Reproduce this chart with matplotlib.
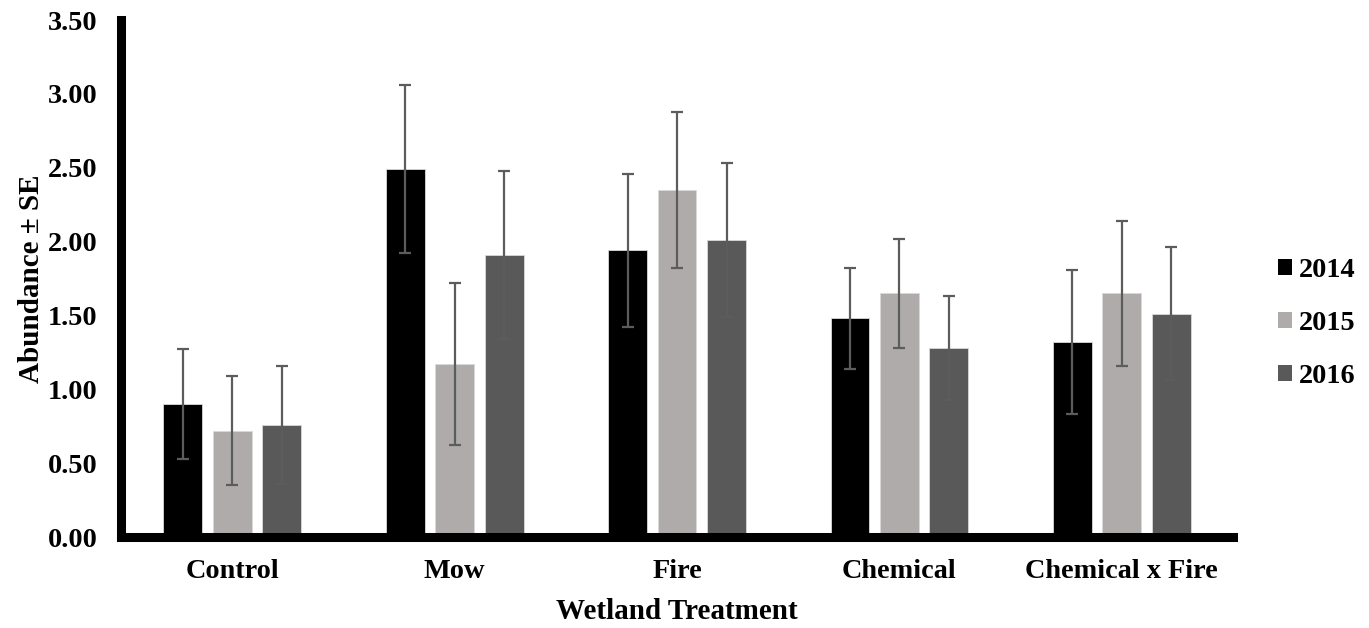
import numpy as np
import matplotlib.pyplot as plt
from matplotlib.patches import Patch

plt.rcParams["font.family"] = "Liberation Serif"
plt.rcParams["font.weight"] = "bold"

treatments = ["Control", "Mow", "Fire", "Chemical", "Chemical x Fire"]
years = ["2014", "2015", "2016"]
means = {
    "2014": [0.90, 2.49, 1.94, 1.48, 1.32],
    "2015": [0.72, 1.17, 2.35, 1.65, 1.65],
    "2016": [0.76, 1.91, 2.01, 1.28, 1.51],
}
se = {
    "2014": [0.37, 0.57, 0.52, 0.34, 0.49],
    "2015": [0.37, 0.55, 0.53, 0.37, 0.49],
    "2016": [0.40, 0.57, 0.52, 0.35, 0.45],
}
colors = {"2014": "#000000", "2015": "#afabab", "2016": "#595959"}
yticks = [0.0, 0.5, 1.0, 1.5, 2.0, 2.5, 3.0, 3.5]

fig = plt.figure(figsize=(13.69, 6.28), dpi=100)
ax = fig.add_axes([0.0884, 0.1449, 0.8123, 0.8232])

x = np.arange(len(treatments))
width = 0.175
step = 0.2225
for i, yr in enumerate(years):
    pos = x + (i - 1) * step
    ax.bar(pos, means[yr], width, color=colors[yr], edgecolor="#d9d9d9",
           linewidth=0.6, zorder=2)
    ax.errorbar(pos, means[yr], yerr=se[yr], fmt="none", ecolor="#5c5c5c",
                elinewidth=1.6, capsize=4.5, capthick=1.6, zorder=3)

ax.set_xlim(-0.5, len(treatments) - 0.5)
ax.set_ylim(0, 3.5)
ax.set_yticks(yticks)
ax.set_yticklabels([f"{v:.2f}" for v in yticks])
ax.set_xticks(x)
ax.set_xticklabels(treatments)
ax.tick_params(axis="both", length=0, labelsize=20.3)
ax.tick_params(axis="y", pad=17)
ax.tick_params(axis="x", pad=16)

for side in ["top", "right"]:
    ax.spines[side].set_visible(False)
for side in ["left", "bottom"]:
    ax.spines[side].set_linewidth(6.5)
    ax.spines[side].set_color("black")

ax.set_xlabel("Wetland Treatment", fontsize=21, fontweight="bold", labelpad=10)
ax.set_ylabel("Abundance \u00b1 SE", fontsize=21, fontweight="bold", labelpad=2)

handles = [Patch(facecolor=colors[yr], edgecolor="none", label=yr) for yr in years]
fig.legend(handles=handles, loc="center left", bbox_to_anchor=(0.915, 0.485),
           frameon=False, fontsize=20.3, handlelength=0.5, handleheight=0.5,
           handletextpad=0.25, labelspacing=1.0)

fig.savefig("out.png", dpi=100)
